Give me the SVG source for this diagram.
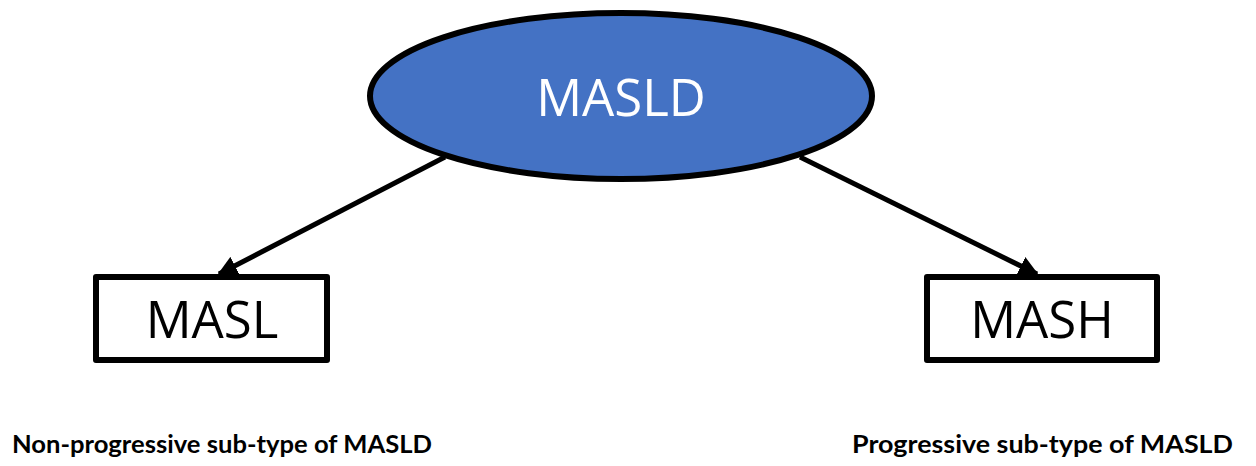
<svg xmlns="http://www.w3.org/2000/svg" width="1256" height="466" viewBox="0 0 1256 466">
<defs>
<style>
.box{fill:#fff;stroke:#000;stroke-width:6;stroke-linejoin:round}
.big{font-family:"Open Sans","Liberation Sans",sans-serif;font-size:51px;text-anchor:middle}
.cap{font-family:Lato,"Open Sans",sans-serif;font-size:25px;font-weight:bold;fill:#000}
.conn{stroke:#000;stroke-width:5;fill:none}
</style>
<marker id="ah" viewBox="0 0 10 10" refX="9" refY="5" markerWidth="4" markerHeight="4" orient="auto" markerUnits="strokeWidth">
<path d="M0,0 L10,5 L0,10 z" fill="#000"/>
</marker>
</defs>
<rect width="1256" height="466" fill="#fff"/>
<g id="connectors">
<line class="conn" x1="445" y1="157" x2="219" y2="274" marker-end="url(#ah)"/>
<line class="conn" x1="800" y1="157" x2="1037" y2="274" marker-end="url(#ah)"/>
</g>
<g id="masld">
<ellipse cx="621" cy="96" rx="251" ry="83" fill="#4472c4" stroke="#000" stroke-width="6"/>
<text class="big" x="621" y="116" fill="#fff">MASLD</text>
</g>
<g id="masl">
<rect class="box" x="96" y="277" width="231" height="83"/>
<text class="big" x="212" y="338" fill="#000">MASL</text>
</g>
<g id="mash">
<rect class="box" x="927" y="277" width="230" height="83"/>
<text class="big" x="1042" y="338" fill="#000">MASH</text>
</g>
<g id="captions">
<text class="cap" x="12" y="453" textLength="420" lengthAdjust="spacingAndGlyphs">Non-progressive sub-type of MASLD</text>
<text class="cap" x="852" y="453" textLength="381" lengthAdjust="spacingAndGlyphs">Progressive sub-type of MASLD</text>
</g>
</svg>
